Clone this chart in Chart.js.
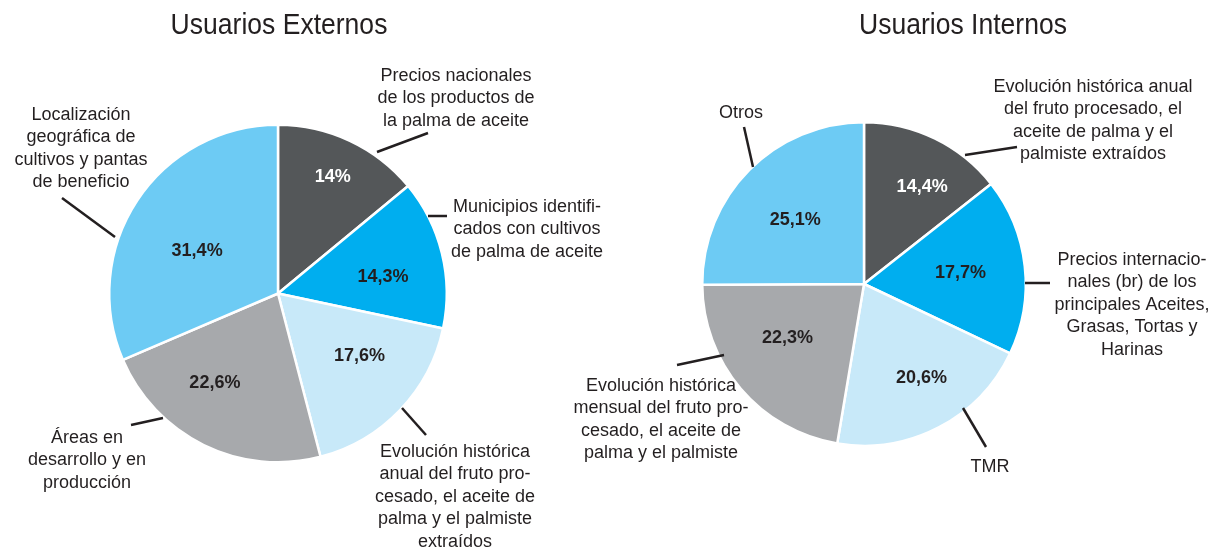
<!DOCTYPE html>
<html lang="es">
<head>
<meta charset="utf-8">
<title>Usuarios Externos e Internos</title>
<script src="https://cdn.jsdelivr.net/npm/chart.js@4.4.1/dist/chart.umd.min.js"></script>
<style>
  html, body { margin: 0; padding: 0; background: #ffffff; }
  #wrap { position: relative; width: 1216px; height: 548px; overflow: hidden; }
  #wrap canvas { position: absolute; left: 0; top: 0; }
</style>
</head>
<body>
<div id="wrap">
  <canvas id="externos" width="1216" height="548"></canvas>
  <canvas id="internos" width="1216" height="548"></canvas>
</div>
<script>
// ---- Data ----
const externosTitle = 'Usuarios Externos';
const externosCategories = [
  ['Precios nacionales', 'de los productos de', 'la palma de aceite'],
  ['Municipios identifi-', 'cados con cultivos', 'de palma de aceite'],
  ['Evolución histórica', 'anual del fruto pro-', 'cesado, el aceite de', 'palma y el palmiste', 'extraídos'],
  ['Áreas en', 'desarrollo y en', 'producción'],
  ['Localización', 'geográfica de', 'cultivos y pantas', 'de beneficio']
];
const externosValues = [14, 14.3, 17.6, 22.6, 31.4];

const internosTitle = 'Usuarios Internos';
const internosCategories = [
  ['Evolución histórica anual', 'del fruto procesado, el', 'aceite de palma y el', 'palmiste extraídos'],
  ['Precios internacio-', 'nales (br) de los', 'principales Aceites,', 'Grasas, Tortas y', 'Harinas'],
  ['TMR'],
  ['Evolución histórica', 'mensual del fruto pro-', 'cesado, el aceite de', 'palma y el palmiste'],
  ['Otros']
];
const internosValues = [14.4, 17.7, 20.6, 22.3, 25.1];

// ---- Styling ----
const sliceColors = ['#545759', '#00aeef', '#c8e9f9', '#a7a9ac', '#6dcbf4'];
const pctColors   = ['#ffffff', '#231f20', '#231f20', '#231f20', '#231f20'];
const inkColor = '#231f20';
const fontFamily = "'Liberation Sans', Arial, Helvetica, sans-serif";

// Layout of each pie, callout blocks and leader lines
const externosLayout = {
  padding: { left: 108, top: 123.5, right: 768, bottom: 84.5 },
  title: { x: 279, y: 26 },
  // [radius fraction, angle offset in degrees] for the percentage labels
  pctPlacement: [[0.76, 0], [0.63, 5], [0.61, -6], [0.65, 9], [0.54, -6]],
  callouts: [
    { x: 456, y: 76,  leader: [377, 152, 428, 133] },
    { x: 527, y: 207, leader: [428, 216, 447, 216] },
    { x: 455, y: 452, leader: [402, 408, 426, 435] },
    { x: 87,  y: 438, leader: [131, 425, 163, 418] },
    { x: 81,  y: 115, leader: [62, 198, 115, 237] }
  ]
};
const internosLayout = {
  padding: { left: 701, top: 121, right: 189, bottom: 101 },
  title: { x: 963, y: 26 },
  pctPlacement: [[0.70, 5], [0.60, 0], [0.68, -4], [0.58, 5], [0.58, -2]],
  callouts: [
    { x: 1093, y: 87,  leader: [965, 155, 1017, 147] },
    { x: 1132, y: 260, leader: [1025, 283, 1050, 283] },
    { x: 990,  y: 467, leader: [963, 408, 986, 447] },
    { x: 661,  y: 386, leader: [677, 365, 724, 355] },
    { x: 741,  y: 113, leader: [744, 127, 753, 167] }
  ]
};

function formatPct(v) {
  return String(v).replace('.', ',') + '%';
}

// Draws the title, in-slice percentages and outside callouts with leader lines
const annotatePie = {
  id: 'annotatePie',
  afterDatasetsDraw(chart, args, opts) {
    const ctx = chart.ctx;
    const layout = opts.layout;
    const meta = chart.getDatasetMeta(0);
    const values = chart.data.datasets[0].data;
    const cats = opts.categories;

    ctx.save();

    // Title (slightly condensed sans)
    ctx.save();
    ctx.fillStyle = inkColor;
    ctx.font = '29px ' + fontFamily;
    ctx.textAlign = 'center';
    ctx.textBaseline = 'middle';
    ctx.translate(layout.title.x, layout.title.y);
    ctx.scale(0.915, 1);
    ctx.fillText(opts.title, 0, 0);
    ctx.restore();

    // Percentages inside the slices
    ctx.font = 'bold 18px ' + fontFamily;
    ctx.textAlign = 'center';
    ctx.textBaseline = 'middle';
    meta.data.forEach((arc, i) => {
      const p = arc.getProps(['x', 'y', 'startAngle', 'endAngle', 'outerRadius'], true);
      const [frac, offDeg] = layout.pctPlacement[i];
      const mid = (p.startAngle + p.endAngle) / 2 + offDeg * Math.PI / 180;
      const r = p.outerRadius * frac;
      ctx.fillStyle = pctColors[i];
      ctx.fillText(formatPct(values[i]), p.x + Math.cos(mid) * r, p.y + Math.sin(mid) * r);
    });

    // Callout texts and leader lines
    ctx.fillStyle = inkColor;
    ctx.strokeStyle = inkColor;
    ctx.lineWidth = 2.5;
    ctx.font = '18px ' + fontFamily;
    layout.callouts.forEach((c, i) => {
      cats[i].forEach((line, k) => {
        ctx.fillText(line, c.x, c.y + k * 22.4);
      });
      const l = c.leader;
      ctx.beginPath();
      ctx.moveTo(l[0], l[1]);
      ctx.lineTo(l[2], l[3]);
      ctx.stroke();
    });

    ctx.restore();
  }
};

function makePie(canvasId, title, categories, values, layout) {
  return new Chart(document.getElementById(canvasId), {
    type: 'pie',
    data: {
      labels: categories.map(c => c.join(' ')),
      datasets: [{
        data: values,
        backgroundColor: sliceColors,
        borderColor: '#ffffff',
        borderWidth: 2.5,
        hoverOffset: 0
      }]
    },
    options: {
      responsive: false,
      animation: false,
      devicePixelRatio: 1,
      layout: { padding: layout.padding },
      plugins: {
        legend: { display: false },
        tooltip: { enabled: false },
        title: { display: false },
        annotatePie: { title: title, categories: categories, layout: layout }
      },
      events: []
    },
    plugins: [annotatePie]
  });
}

makePie('externos', externosTitle, externosCategories, externosValues, externosLayout);
makePie('internos', internosTitle, internosCategories, internosValues, internosLayout);
</script>
</body>
</html>
